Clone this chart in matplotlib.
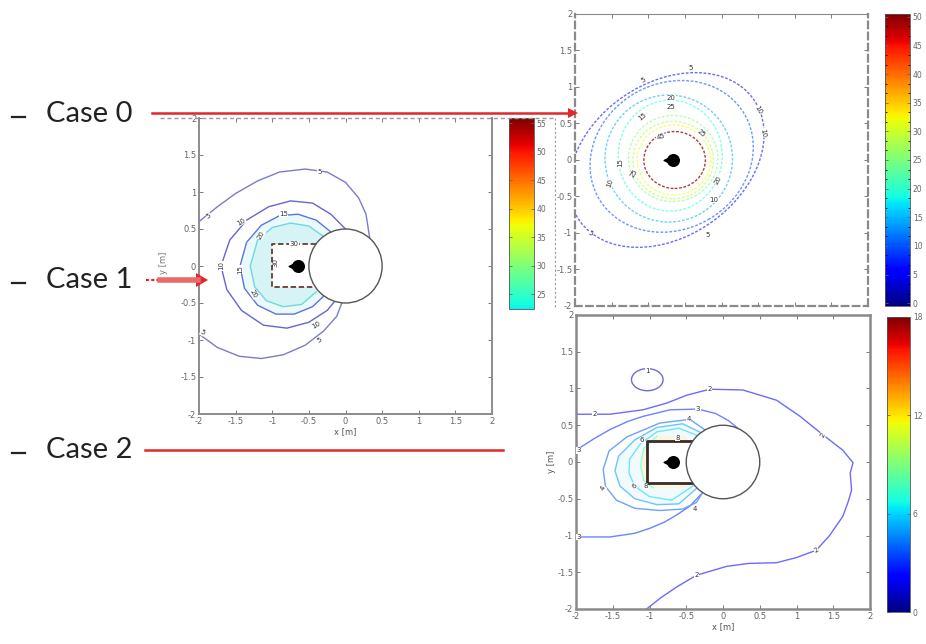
import numpy as np
import matplotlib.pyplot as plt
from matplotlib.patches import Circle, Ellipse, Polygon
from matplotlib.colors import LinearSegmentedColormap, Normalize
from matplotlib.colorbar import ColorbarBase
from matplotlib.lines import Line2D
import matplotlib.ticker as mticker

W, H = 926, 644

# --- data -------------------------------------------------------------
case_names = ['Case 0', 'Case 1', 'Case 2']
ax_ticks = [-2, -1.5, -1, -0.5, 0, 0.5, 1, 1.5, 2]
ax_ticklabels = ['-2', '-1.5', '-1', '-0.5', '0', '0.5', '1', '1.5', '2']

cyl_center = (0.0, 0.0)
cyl_r = 0.5

# Case 0: free source, rings (cx, cy, width, height, angle, level)
c0_src = (-0.66, 0.0)
c0_rings = [
    (-0.75, 0.00, 2.90, 2.10, 35, 5),
    (-0.68, 0.05, 2.30, 2.00, 30, 10),
    (-0.72, 0.02, 1.74, 1.74, 0, 15),
    (-0.70, 0.06, 1.42, 1.52, 0, 20),
    (-0.66, 0.02, 1.22, 1.18, 0, 25),
    (-0.66, 0.00, 1.10, 1.06, 0, 28),
    (-0.65, 0.00, 1.00, 0.96, 0, 32),
    (-0.64, 0.00, 0.84, 0.78, 0, 45),
]
c0_labels = [(-0.42, 1.26, '5', 0), (-1.06, 1.10, '5', 30), (-1.79, -1.0, '5', -30),
             (-0.19, -1.03, '5', 0), (0.50, 0.68, '10', -60), (0.57, 0.37, '10', -80),
             (-0.10, -0.55, '10', 0), (-1.52, -0.32, '10', 70), (-1.08, 0.59, '15', 40),
             (-1.38, -0.04, '15', 90), (-0.69, 0.85, '20', 0), (-0.69, 0.72, '25', 0),
             (-0.28, 0.37, '25', -40), (-1.20, -0.18, '25', 60), (-0.83, 0.32, '45', 20),
             (-0.05, -0.27, '20', 60)]
c0_cbar_ticks = [0, 5, 10, 15, 20, 25, 30, 35, 40, 45, 50]

# Case 1: source next to the cylinder, open contours (level, points)
c1_src = (-0.65, 0.0)
c1_lines = [
    (5, [(-2.0, 0.60), (-1.75, 0.80), (-1.5, 0.98), (-1.2, 1.15), (-0.9, 1.27),
         (-0.55, 1.31), (-0.25, 1.27), (0.0, 1.13), (0.18, 0.92), (0.28, 0.70),
         (0.33, 0.38)]),
    (5, [(-2.0, -0.92), (-1.75, -1.10), (-1.45, -1.22), (-1.15, -1.25), (-0.85, -1.20),
         (-0.55, -1.07), (-0.30, -0.88), (-0.12, -0.68), (-0.05, -0.50)]),
    (10, [(0.0, 0.50), (-0.2, 0.70), (-0.45, 0.85), (-0.75, 0.88), (-1.05, 0.80),
          (-1.35, 0.62), (-1.58, 0.35), (-1.70, 0.0), (-1.62, -0.32), (-1.42, -0.60),
          (-1.12, -0.80), (-0.80, -0.84), (-0.50, -0.76), (-0.25, -0.60), (-0.15, -0.48)]),
    (15, [(-0.2, 0.46), (-0.4, 0.62), (-0.65, 0.70), (-0.9, 0.68), (-1.15, 0.55),
          (-1.35, 0.32), (-1.44, 0.0), (-1.38, -0.30), (-1.20, -0.53), (-0.95, -0.65),
          (-0.70, -0.65), (-0.45, -0.55), (-0.30, -0.41)]),
    (20, [(-0.30, 0.40), (-0.5, 0.54), (-0.75, 0.58), (-1.0, 0.52), (-1.2, 0.35),
          (-1.30, 0.0), (-1.24, -0.28), (-1.08, -0.47), (-0.85, -0.55), (-0.6, -0.52),
          (-0.40, -0.35)]),
]
c1_box = [(-0.40, 0.30), (-1.0, 0.30), (-1.0, -0.28), (-0.41, -0.28)]
c1_labels = [(-0.35, 1.27, '5', 0), (-1.87, 0.68, '5', 30), (-1.95, -0.90, '5', -30),
             (-0.35, -1.00, '5', 30), (-1.42, 0.60, '10', 30), (-1.70, 0.0, '10', 90),
             (-0.40, -0.80, '10', 30), (-0.85, 0.70, '15', 0), (-1.44, -0.05, '15', 90),
             (-1.15, 0.42, '20', 60), (-1.25, -0.38, '20', -60), (-0.70, 0.30, '30', 0),
             (-0.95, 0.05, '30', 90)]
c1_cbar_ticks = [25, 30, 35, 40, 45, 50, 55]

# Case 2: source inside the open box
c2_src = (-0.68, 0.0)
c2_loop = (-1.03, 1.12, 0.43, 0.30)
c2_lines = [
    (2, [(-2.0, 0.65), (-1.54, 0.65), (-1.09, 0.71), (-0.77, 0.80), (-0.49, 0.91),
         (-0.18, 0.99), (0.27, 0.98), (0.73, 0.84), (1.05, 0.62), (1.36, 0.37),
         (1.63, 0.16), (1.72, 0.05), (1.77, -0.01), (1.73, -0.15), (1.75, -0.38),
         (1.70, -0.55), (1.63, -0.74), (1.45, -1.00), (1.27, -1.20), (1.00, -1.30),
         (0.73, -1.37), (0.35, -1.38), (0.05, -1.42), (-0.36, -1.54), (-0.63, -1.70),
         (-0.85, -1.85), (-1.04, -2.0)]),
    (3, [(-2.0, 0.16), (-1.75, 0.32), (-1.54, 0.44), (-1.30, 0.55), (-1.09, 0.62),
         (-0.72, 0.71), (-0.34, 0.72), (-0.10, 0.66), (0.08, 0.56), (0.20, 0.46)]),
    (3, [(-2.0, -1.02), (-1.54, -1.02), (-1.20, -0.97), (-0.99, -0.90), (-0.80, -0.82),
         (-0.63, -0.72), (-0.45, -0.60), (-0.28, -0.42)]),
    (4, [(-0.25, 0.44), (-0.45, 0.58), (-0.86, 0.53), (-1.31, 0.34), (-1.55, 0.15),
         (-1.63, -0.10), (-1.60, -0.33), (-1.45, -0.52), (-1.20, -0.63), (-0.86, -0.66),
         (-0.55, -0.64), (-0.36, -0.55), (-0.28, -0.42)]),
    (5, [(-0.30, 0.40), (-0.55, 0.52), (-0.90, 0.47), (-1.20, 0.30), (-1.42, 0.08),
         (-1.47, -0.12), (-1.40, -0.33), (-1.20, -0.50), (-0.90, -0.58), (-0.60, -0.57),
         (-0.36, -0.36)]),
    (6, [(-0.35, 0.36), (-0.60, 0.46), (-0.90, 0.41), (-1.12, 0.25), (-1.27, 0.04),
         (-1.28, -0.15), (-1.20, -0.33), (-1.00, -0.47), (-0.70, -0.52), (-0.40, -0.32)]),
    (8, [(-0.9, 0.35), (-1.08, 0.18), (-1.12, -0.05), (-1.08, -0.25), (-0.95, -0.35)]),
]
c2_box = [(-0.40, 0.29), (-1.04, 0.29), (-1.04, -0.29), (-0.41, -0.29)]
c2_labels = [(-1.03, 1.24, '1', 0), (-1.75, 0.65, '2', 0), (-0.18, 0.99, '2', 0),
             (1.36, 0.37, '2', 60), (1.27, -1.20, '2', 30), (-0.36, -1.54, '2', 0),
             (-1.96, 0.16, '3', 0), (-0.34, 0.72, '3', 0), (-1.97, -1.02, '3', 0),
             (-0.47, 0.59, '4', 0), (-1.63, -0.36, '4', 60), (-0.38, -0.64, '4', 0),
             (-1.20, -0.32, '6', 45), (-1.10, 0.30, '6', 0), (-1.05, -0.33, '8', 0),
             (-0.62, 0.33, '8', 0)]
c2_cbar_ticks = [0, 6, 12, 18]

# --- helpers ----------------------------------------------------------
def box(x0, y0, x1, y1):
    return [x0 / W, 1 - y1 / H, (x1 - x0) / W, (y1 - y0) / H]


def pale(c, k=0.3):
    c = np.array(c[:3])
    return tuple(c * (1 - k) + k)


def clab(ax, x, y, s, rot):
    ax.text(x, y, s, fontsize=5, color='#333333', ha='center', va='center',
            rotation=rot, zorder=6, bbox=dict(fc='white', ec='none', pad=0.2))


def style_axes(ax, spine='#8c8c8c', lw=1.4):
    ax.set_xlim(-2, 2)
    ax.set_ylim(-2, 2)
    ax.set_xticks(ax_ticks)
    ax.set_xticklabels(ax_ticklabels)
    ax.set_yticks(ax_ticks)
    ax.set_yticklabels(ax_ticklabels)
    ax.tick_params(direction='in', top=True, right=True, length=3, width=0.6,
                   labelsize=6, colors='#666666', pad=2)
    for s in ax.spines.values():
        s.set_color(spine)
        s.set_linewidth(lw)


def cylinder(ax):
    ax.add_patch(Circle(cyl_center, cyl_r, fc='white', ec='#555555', lw=1.0, zorder=4))


def source(ax, p):
    ax.scatter([p[0]], [p[1]], s=70, c='black', marker='o', zorder=5)
    ax.scatter([p[0] - 0.05], [p[1]], s=60, c='black', marker='<', zorder=5)


def cbar(rect, cmap, vmin, vmax, ticks):
    cax = fig.add_axes(rect)
    cb = ColorbarBase(cax, cmap=cmap, norm=Normalize(vmin, vmax), ticks=ticks)
    cb.outline.set_linewidth(0.6)
    cb.outline.set_edgecolor('#555555')
    cax.tick_params(labelsize=5.5, colors='#666666', length=2, width=0.6,
                    direction='in', left=True, right=True, pad=2)
    return cax


jet = plt.get_cmap('jet')

fig = plt.figure(figsize=(W / 100, H / 100), dpi=100)

# --- Case 1 -------------------------------------------------------------
ax1 = fig.add_axes(box(199, 118, 492, 414))
style_axes(ax1)
ax1.spines['top'].set_visible(False)
lvl_col1 = {5: '#7b7bcb', 10: '#6464d4', 15: '#5a74e0', 20: '#72d6e0'}
ax1.add_patch(Polygon(np.array(c1_lines[3][1]), closed=True, fc='#eafafa', ec='none', zorder=1))
ax1.add_patch(Polygon(np.array(c1_lines[4][1]), closed=True, fc='#d6f4f5', ec='none', zorder=1))
b = np.array(c1_box + [(-0.2, -0.28), (-0.2, 0.30)])
ax1.add_patch(Polygon(b, closed=True, fc='white', ec='none', zorder=1.5))
for lvl, pts in c1_lines:
    a = np.array(pts)
    ax1.plot(a[:, 0], a[:, 1], color=lvl_col1[lvl], lw=1.0, zorder=2)
a = np.array(c1_box)
ax1.plot(a[:, 0], a[:, 1], color='#6a3a30', lw=1.3, ls=(0, (3, 1.5)), zorder=3)
cylinder(ax1)
source(ax1, c1_src)
for x, y, s, r in c1_labels:
    clab(ax1, x, y, s, r)
ax1.set_xlabel('x [m]', fontsize=6, color='#555555', labelpad=1)
fig.text(163 / W, 1 - 263 / H, 'y [m]', fontsize=6, color='#777777', rotation=90,
         ha='center', va='center')

jet_hi = LinearSegmentedColormap.from_list('jet_hi', jet(np.linspace(0.36, 1.0, 256)))
cbar(box(509, 118, 534, 309), jet_hi, 22.4, 55.9, c1_cbar_ticks)

# --- Case 0 -------------------------------------------------------------
ax0 = fig.add_axes(box(575, 14, 868, 306))
style_axes(ax0, spine='#8a8a8a', lw=1.6)
ax0.tick_params(labelbottom=False)
for side in ['left', 'bottom', 'right']:
    ax0.spines[side].set_linestyle((0, (3, 2)))
ax0.spines['top'].set_linewidth(0.8)
for cx, cy, w, h, ang, lvl in c0_rings:
    col = pale(jet(lvl / 50), 0.42) if lvl < 40 else '#a8403a'
    ax0.add_patch(Ellipse((cx, cy), w, h, angle=ang, fill=False, ec=col, lw=1.0,
                          ls=(0, (2, 1.2)), zorder=2))
source(ax0, c0_src)
for x, y, s, r in c0_labels:
    clab(ax0, x, y, s, r)
cax0 = cbar(box(885, 14, 910, 306), jet, -0.5, 50.5, c0_cbar_ticks)
cax0.yaxis.set_minor_locator(mticker.AutoMinorLocator(3))
cax0.tick_params(which='minor', length=1.5, direction='in', left=True, right=True)

# --- Case 2 -------------------------------------------------------------
ax2 = fig.add_axes(box(576, 315, 870, 609))
style_axes(ax2, spine='#8a8a8a', lw=1.8)
ax2.add_patch(Polygon(np.array(c2_lines[4][1]), closed=True, fc='#f1fafc', ec='none', zorder=1))
ax2.add_patch(Polygon(np.array(c2_lines[6][1] + [(-0.5, -0.35), (-0.5, 0.35)]),
                      closed=True, fc='#fbf7df', ec='none', zorder=1))
b = np.array(c2_box + [(-0.2, -0.29), (-0.2, 0.29)])
ax2.add_patch(Polygon(b, closed=True, fc='white', ec='none', zorder=1.5))
for lvl, pts in c2_lines:
    a = np.array(pts)
    ax2.plot(a[:, 0], a[:, 1], color=pale(jet(lvl / 18), 0.42), lw=1.0, zorder=2)
cx, cy, w, h = c2_loop
ax2.add_patch(Ellipse((cx, cy), w, h, fill=False, ec=pale(jet(1 / 18), 0.42), lw=1.0, zorder=2))
a = np.array(c2_box)
ax2.plot(a[:, 0], a[:, 1], color='#3d2a22', lw=2.0, zorder=3)
cylinder(ax2)
source(ax2, c2_src)
for x, y, s, r in c2_labels:
    clab(ax2, x, y, s, r)
ax2.set_xlabel('x [m]', fontsize=6, color='#555555', labelpad=1)
ax2.set_ylabel('y [m]', fontsize=6, color='#555555', labelpad=1)
cbar(box(887, 317, 910, 612), jet, 0, 18, c2_cbar_ticks)

# --- frames, arrows and case labels ------------------------------------
def fig_line(xs, ys, **kw):
    fig.add_artist(Line2D([x / W for x in xs], [1 - y / H for y in ys],
                          transform=fig.transFigure, **kw))


fig_line([160, 555], [118, 118], color='#9a9a9a', lw=1.0, ls=(0, (3, 2)))
fig_line([555, 555], [118, 307], color='#9a9a9a', lw=0.8, ls=(0, (2, 2)))

red = '#e3262b'
fig_line([152, 568], [113, 113], color=red, lw=1.8)
fig.add_artist(plt.Polygon([[568 / W, 1 - 108 / H], [578 / W, 1 - 113 / H], [568 / W, 1 - 118 / H]],
                           closed=True, fc=red, ec='none', transform=fig.transFigure))
fig_line([146, 160], [280, 280], color=red, lw=1.5, ls=(0, (1.5, 1)))
fig_line([160, 198], [280, 280], color='#ea6a6a', lw=4.0)
fig.add_artist(plt.Polygon([[196 / W, 1 - 273 / H], [208 / W, 1 - 280 / H], [196 / W, 1 - 287 / H]],
                           closed=True, fc=red, ec='none', transform=fig.transFigure))
fig_line([145, 503], [450, 450], color=red, lw=1.8)

label_y = [114, 280, 450]
for name, yy in zip(case_names, label_y):
    fig_line([12, 25], [yy + 3, yy + 3], color='#222222', lw=1.6)
    fig.text(46 / W, 1 - yy / H, name, fontsize=21, color='#222222',
             ha='left', va='center', family='Lato')

fig.savefig('out.png', dpi=100)
